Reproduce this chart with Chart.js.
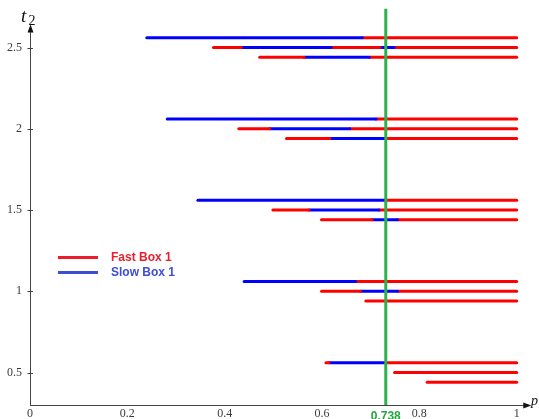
<!DOCTYPE html>
<html>
<head>
<meta charset="utf-8">
<script src="https://cdn.jsdelivr.net/npm/chart.js@4"></script>
<style>
  body { margin: 0; background: #fff; }
  #chartWrap { width: 539px; height: 419px; }
</style>
</head>
<body>
<div id="chartWrap"><canvas id="boxChart" width="539" height="419"></canvas></div>
<script>
// t2 value of every row of segments
const rowTimes = [2.56, 2.5, 2.44, 2.06, 2.0, 1.94, 1.56, 1.5, 1.44, 1.06, 1.0, 0.94, 0.56, 0.5, 0.44];
// p where each row starts, then where the colour switches, last one is the end
const rowStops = [
    [0.240, 0.683, 1],
    [0.377, 0.434, 0.619, 0.719, 0.748, 1],
    [0.472, 0.563, 0.697, 1],
    [0.282, 0.711, 1],
    [0.429, 0.492, 0.657, 1],
    [0.527, 0.616, 0.729, 1],
    [0.345, 0.729, 1],
    [0.499, 0.573, 0.717, 1],
    [0.599, 0.703, 0.755, 1],
    [0.440, 0.669, 1],
    [0.599, 0.679, 0.755, 1],
    [0.690, 1],
    [0.608, 0.614, 0.731, 1],
    [0.749, 1],
    [0.816, 1]
];
// which box the first piece of the row belongs to (pieces alternate after that)
const rowFirstBox = ['slow', 'fast', 'fast', 'slow', 'fast', 'fast', 'slow', 'fast', 'fast', 'slow', 'fast', 'fast', 'fast', 'fast', 'fast'];

const legendLabels = ['Fast Box 1', 'Slow Box 1'];
const xTicks = [0, 0.2, 0.4, 0.6, 0.8, 1];
const yTicks = [0.5, 1, 1.5, 2, 2.5];
const thresholdP = 0.731;
const thresholdLabel = '0.738';
const xRange = [0, 1.03];
const yRange = [0.3, 2.74];
const yArrowTop = 2.63;

const boxColors = { fast: '#ff0000', slow: '#0000ff' };
const legendColors = { fast: '#ee1d2b', slow: '#3e4ed0' };
const greenColor = '#2cb14b';
const axisColor = '#444444';

function buildDatasets() {
    const sets = [];
    // threshold line first so it is drawn on top
    sets.push({
        data: [{ x: thresholdP, y: yRange[0] }, { x: thresholdP, y: yRange[1] }],
        borderColor: greenColor,
        borderWidth: 3,
        borderCapStyle: 'butt'
    });
    rowTimes.forEach((t, r) => {
        const stops = rowStops[r];
        let box = rowFirstBox[r];
        for (let i = 0; i < stops.length - 1; i++) {
            sets.push({
                data: [{ x: stops[i], y: t }, { x: stops[i + 1], y: t }],
                borderColor: boxColors[box],
                borderWidth: 3,
                borderCapStyle: 'round'
            });
            box = box === 'fast' ? 'slow' : 'fast';
        }
    });
    return sets;
}

const axisPlugin = {
    id: 'axisPlugin',
    beforeDatasetsDraw(chart) {
        const ctx = chart.ctx;
        const xs = chart.scales.x;
        const ys = chart.scales.y;
        const x0 = xs.getPixelForValue(0);
        const y0 = ys.getPixelForValue(yRange[0]);
        const xEnd = xs.getPixelForValue(xRange[1]) - 3;
        const yEnd = ys.getPixelForValue(yArrowTop);
        ctx.save();
        ctx.strokeStyle = axisColor;
        ctx.lineWidth = 1;
        ctx.beginPath();
        ctx.moveTo(x0, y0 + 0.5);
        ctx.lineTo(xEnd, y0 + 0.5);
        ctx.moveTo(x0 + 0.5, y0);
        ctx.lineTo(x0 + 0.5, yEnd);
        yTicks.forEach(v => {
            const py = Math.round(ys.getPixelForValue(v)) + 0.5;
            ctx.moveTo(x0 - 2.5, py);
            ctx.lineTo(x0 + 3, py);
        });
        ctx.stroke();
        // arrow heads
        ctx.fillStyle = '#111';
        ctx.beginPath();
        ctx.moveTo(xEnd + 3, y0 + 0.5);
        ctx.lineTo(xEnd - 5, y0 - 2.5);
        ctx.lineTo(xEnd - 5, y0 + 3.5);
        ctx.closePath();
        ctx.moveTo(x0 + 0.5, yEnd - 2);
        ctx.lineTo(x0 - 2.5, yEnd + 6);
        ctx.lineTo(x0 + 3.5, yEnd + 6);
        ctx.closePath();
        ctx.fill();
        ctx.restore();
    },
    afterDraw(chart) {
        const ctx = chart.ctx;
        const xs = chart.scales.x;
        ctx.save();
        // axis names
        ctx.fillStyle = '#111';
        ctx.textAlign = 'left';
        ctx.textBaseline = 'alphabetic';
        ctx.font = 'italic 19px "Liberation Serif"';
        ctx.fillText('t', 21, 21.5);
        ctx.font = '14px "Liberation Serif"';
        ctx.fillText('2', 28.5, 25);
        ctx.font = 'italic 14px "Liberation Serif"';
        ctx.fillText('p', 531, 405);

        // threshold value under the axis
        ctx.fillStyle = '#22a53f';
        ctx.font = 'bold 12px "Liberation Sans"';
        ctx.textAlign = 'center';
        ctx.fillText(thresholdLabel, xs.getPixelForValue(thresholdP), 420);

        // legend
        const keys = ['fast', 'slow'];
        ctx.textAlign = 'left';
        ctx.textBaseline = 'middle';
        ctx.lineWidth = 3;
        keys.forEach((k, i) => {
            const ly = 257.5 + i * 15;
            ctx.strokeStyle = legendColors[k];
            ctx.beginPath();
            ctx.moveTo(58, ly);
            ctx.lineTo(98, ly);
            ctx.stroke();
            ctx.fillStyle = legendColors[k];
            ctx.fillText(legendLabels[i], 111, ly);
        });
        ctx.restore();
    }
};

function noScalePadding(s) {
    s.paddingTop = 0;
    s.paddingBottom = 0;
    s.paddingLeft = 0;
    s.paddingRight = 0;
}

function createBoxChart() {
    const ctx = document.getElementById('boxChart');
    if (!ctx) return;

    new Chart(ctx, {
        type: 'line',
        data: { datasets: buildDatasets() },
        options: {
            responsive: false,
            animation: false,
            layout: { padding: { top: 8.5, right: 7.7, left: 0, bottom: 0 } },
            elements: { point: { radius: 0, hoverRadius: 0 }, line: { tension: 0 } },
            plugins: {
                legend: { display: false },
                tooltip: { enabled: false }
            },
            scales: {
                x: {
                    type: 'linear',
                    min: xRange[0],
                    max: xRange[1],
                    grid: { display: false, drawTicks: false },
                    border: { display: false },
                    afterBuildTicks: s => { s.ticks = xTicks.map(v => ({ value: v })); },
                    afterFit: s => { s.height = 14; noScalePadding(s); },
                    ticks: {
                        autoSkip: false,
                        maxRotation: 0,
                        padding: 2,
                        color: '#3a3a3a',
                        font: { family: 'Liberation Serif', size: 12 },
                        callback: v => String(v)
                    }
                },
                y: {
                    type: 'linear',
                    min: yRange[0],
                    max: yRange[1],
                    grid: { display: false, drawTicks: false },
                    border: { display: false },
                    afterBuildTicks: s => { s.ticks = yTicks.map(v => ({ value: v })); },
                    afterFit: s => { s.width = 30; noScalePadding(s); },
                    ticks: {
                        autoSkip: false,
                        padding: 8,
                        color: '#3a3a3a',
                        font: { family: 'Liberation Serif', size: 12 },
                        callback: v => String(v)
                    }
                }
            }
        },
        plugins: [axisPlugin]
    });
}

document.addEventListener('DOMContentLoaded', function() {
    createBoxChart();
});
</script>
</body>
</html>
